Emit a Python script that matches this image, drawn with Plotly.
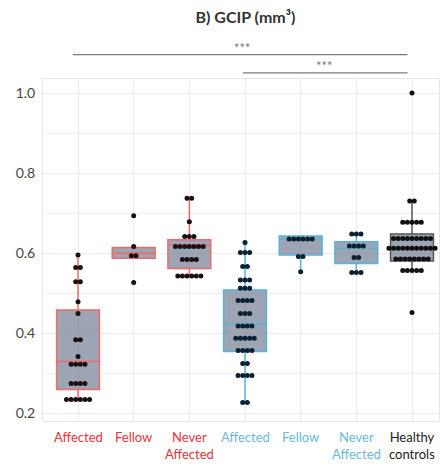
import plotly.graph_objects as go
from collections import Counter

# Group labels and colours (red = one eye group, blue = other, black = controls)
groups = ["Affected", "Fellow", "Never<br>Affected", "Affected", "Fellow", "Never<br>Affected", "Healthy<br>controls"]
label_colors = ["#e8333c", "#e8333c", "#e8333c", "#6db8dc", "#6db8dc", "#6db8dc", "#222222"]
line_colors = ["#f06a6a", "#f06a6a", "#f06a6a", "#5ab2da", "#5ab2da", "#5ab2da", "#555555"]
dot_colors = ["#1a1014", "#1a1014", "#1a1014", "#0b2030", "#0b2030", "#0b2030", "#111111"]

# Individual GCIP volumes (mm³) per group
red_affected = [0.595, 0.564, 0.564, 0.528, 0.528, 0.478, 0.449, 0.383, 0.383, 0.341,
                0.322, 0.322, 0.322, 0.322, 0.274, 0.274, 0.274, 0.274,
                0.234, 0.234, 0.234, 0.234, 0.234, 0.234]
red_fellow = [0.693, 0.616, 0.593, 0.593, 0.526]
red_never = [0.737, 0.737, 0.678, 0.641, 0.641, 0.641,
             0.616, 0.616, 0.616, 0.616, 0.616, 0.616, 0.616,
             0.584, 0.584, 0.584, 0.584,
             0.5425, 0.5425, 0.5425, 0.5425, 0.5425, 0.5425]
blue_affected = [0.626, 0.601, 0.601, 0.601, 0.566, 0.566, 0.5325, 0.5325, 0.5325,
                 0.512, 0.512, 0.512, 0.481, 0.481, 0.481, 0.481, 0.449, 0.449, 0.449,
                 0.4175, 0.4175, 0.4175, 0.4175, 0.387, 0.387, 0.387, 0.387, 0.387,
                 0.356, 0.356, 0.356, 0.356, 0.324, 0.324,
                 0.294, 0.294, 0.294, 0.294, 0.226, 0.226]
blue_fellow = [0.635, 0.635, 0.635, 0.635, 0.635, 0.635, 0.591, 0.591, 0.553]
blue_never = [0.6475, 0.6475, 0.6475, 0.6175, 0.6175, 0.6175, 0.6175,
              0.589, 0.589, 0.551, 0.551, 0.551]
healthy = [1.0, 0.73, 0.73] + [0.677] * 5 + [0.636] * 9 + [0.612] * 11 + [0.585] * 8 + [0.556] * 5 + [0.451]

values = [red_affected, red_fellow, red_never, blue_affected, blue_fellow, blue_never, healthy]

# Box summary statistics per group
q1 = [0.259, 0.587, 0.561, 0.3535, 0.595, 0.574, 0.580]
median = [0.329, 0.600, 0.620, 0.4225, 0.635, 0.612, 0.612]
q3 = [0.4575, 0.614, 0.633, 0.5075, 0.6425, 0.628, 0.6475]
lower = [0.234, 0.587, 0.5425, 0.226, 0.553, 0.551, 0.556]
upper = [0.595, 0.616, 0.737, 0.626, 0.6425, 0.6475, 0.73]

fig = go.Figure()

for i in range(len(groups)):
    fig.add_trace(go.Box(
        x=[i], q1=[q1[i]], median=[median[i]], q3=[q3[i]],
        lowerfence=[lower[i]], upperfence=[upper[i]],
        width=0.77, whiskerwidth=0, boxpoints=False,
        fillcolor="rgba(105,115,140,0.65)",
        line=dict(color=line_colors[i], width=1.5),
        showlegend=False, hoverinfo="skip",
    ))

# Beeswarm-style dots: equal values are spread side by side
step = 0.083
for i, vals in enumerate(values):
    counts = Counter(vals)
    seen = Counter()
    xs, ys = [], []
    for v in vals:
        n = counts[v]
        k = seen[v]
        seen[v] += 1
        xs.append(i + (k - (n - 1) / 2) * step)
        ys.append(v)
    fig.add_trace(go.Scatter(
        x=xs, y=ys, mode="markers",
        marker=dict(size=5, color=dot_colors[i]),
        showlegend=False, hoverinfo="skip",
    ))

# Group labels below the axis
for i, (g, c) in enumerate(zip(groups, label_colors)):
    fig.add_annotation(x=i, y=-0.018, xref="x", yref="paper", text=g,
                       showarrow=False, yanchor="top", xanchor="center",
                       font=dict(family="Lato", size=13, color=c))

# Significance brackets
sig_color = "#7a7a7a"
brackets = [(-0.09, 5.92, 1.071, 2.96), (2.96, 5.92, 1.018, 4.43)]
for x0, x1, yl, xt in brackets:
    fig.add_shape(type="line", xref="x", yref="paper", x0=x0, x1=x1, y0=yl, y1=yl,
                  line=dict(color=sig_color, width=1.3))
    fig.add_annotation(x=xt, y=yl, xref="x", yref="paper", text="***", showarrow=False,
                       yanchor="bottom", yshift=-3,
                       font=dict(family="Lato", size=13, color=sig_color))

fig.update_layout(
    width=448, height=470,
    margin=dict(l=43, r=9, t=79, b=49),
    paper_bgcolor="white", plot_bgcolor="white",
    title=dict(text="B) GCIP (mm³)", x=0.548, xanchor="center", y=0.963, yanchor="middle",
               font=dict(family="Lato", size=16, color="#333333", weight=700)),
    xaxis=dict(range=[-0.629, 6.485], tickvals=list(range(7)), showticklabels=False,
               showgrid=True, gridcolor="#ededed", gridwidth=1, zeroline=False,
               showline=True, linecolor="#e6e6e6", mirror=True, ticks=""),
    yaxis=dict(range=[0.18, 1.035], tickvals=[0.2, 0.4, 0.6, 0.8, 1.0],
               ticktext=["0.2", "0.4", "0.6", "0.8", "1.0"],
               minor=dict(tickvals=[0.3, 0.5, 0.7, 0.9], showgrid=True, gridcolor="#f2f2f2"),
               showgrid=True, gridcolor="#ededed", gridwidth=1, zeroline=False,
               showline=True, linecolor="#e6e6e6", mirror=True, ticks="",
               tickfont=dict(family="Lato", size=14, color="#444444"), ticklabelstandoff=4),
)

fig.write_html("out.html")
